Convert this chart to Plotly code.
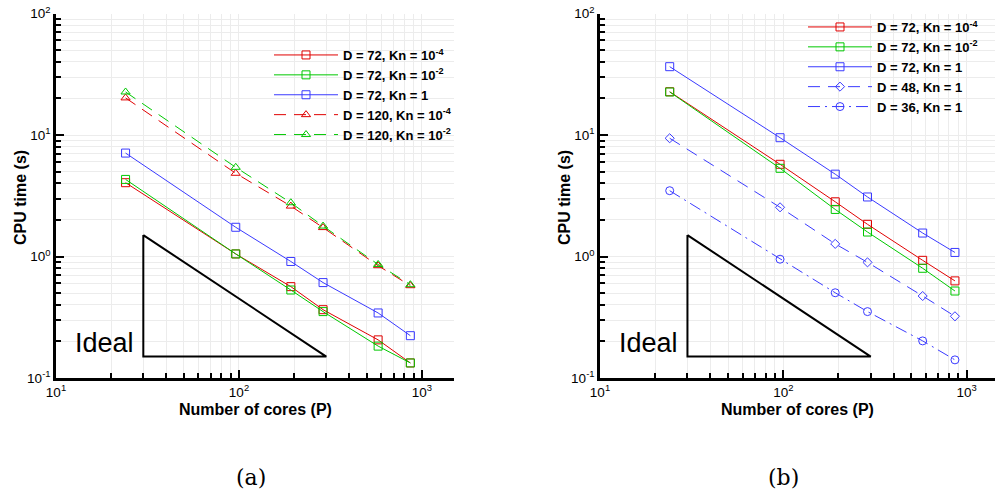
import plotly.graph_objects as go

# ---------------- data ----------------
cores = [24, 96, 192, 288, 576, 864]

# panel (a)
a_d72_kn4 = [4.05, 1.05, 0.565, 0.365, 0.206, 0.133]
a_d72_kn2 = [4.31, 1.05, 0.53, 0.352, 0.183, 0.133]
a_d72_kn0 = [7.1, 1.74, 0.91, 0.61, 0.343, 0.223]
a_d120_kn4 = [20.2, 4.84, 2.6, 1.73, 0.84, 0.575]
a_d120_kn2 = [22.6, 5.42, 2.77, 1.78, 0.86, 0.586]

# panel (b)
b_d72_kn4 = [22.7, 5.74, 2.82, 1.84, 0.93, 0.63]
b_d72_kn2 = [22.6, 5.32, 2.44, 1.59, 0.80, 0.52]
b_d72_kn0 = [36.5, 9.5, 4.76, 3.09, 1.56, 1.08]
b_d48_kn0 = [9.4, 2.54, 1.27, 0.895, 0.473, 0.322]
b_d36_kn0 = [3.48, 0.95, 0.503, 0.352, 0.202, 0.141]

# ideal-scaling triangle
ideal_x = [30, 30, 300, 30]
ideal_y = [1.5, 0.15, 0.15, 1.5]

x_tickvals = [10, 100, 1000]
x_ticktext = ["10<sup>1</sup>", "10<sup>2</sup>", "10<sup>3</sup>"]
y_tickvals = [0.1, 1, 10, 100]
y_ticktext = ["10<sup>-1</sup>", "10<sup>0</sup>", "10<sup>1</sup>", "10<sup>2</sup>"]

names_a = ["D = 72, Kn = 10<sup>-4</sup>", "D = 72, Kn = 10<sup>-2</sup>", "D = 72, Kn = 1",
           "D = 120, Kn = 10<sup>-4</sup>", "D = 120, Kn = 10<sup>-2</sup>"]
names_b = ["D = 72, Kn = 10<sup>-4</sup>", "D = 72, Kn = 10<sup>-2</sup>", "D = 72, Kn = 1",
           "D = 48, Kn = 1", "D = 36, Kn = 1"]

RED = "#e00000"
GREEN = "#00c800"
BLUE = "#3a3aff"
DASH = "12px,8px"
DASHDOT = "12px,5px,2px,5px"

fig = go.Figure()


def add(x, y, name, color, symbol, dash, xa, ya, legend, size=8):
    fig.add_trace(go.Scatter(
        x=x, y=y, name=name, mode="lines+markers",
        line=dict(color=color, width=1, dash=dash),
        marker=dict(symbol=symbol, size=size, color=color, line=dict(width=1, color=color)),
        xaxis=xa, yaxis=ya, legend=legend))


add(cores, a_d72_kn4, names_a[0], RED, "square-open", "solid", "x", "y", "legend")
add(cores, a_d72_kn2, names_a[1], GREEN, "square-open", "solid", "x", "y", "legend")
add(cores, a_d72_kn0, names_a[2], BLUE, "square-open", "solid", "x", "y", "legend")
add(cores, a_d120_kn4, names_a[3], RED, "triangle-up-open", DASH, "x", "y", "legend")
add(cores, a_d120_kn2, names_a[4], GREEN, "triangle-up-open", DASH, "x", "y", "legend")

add(cores, b_d72_kn4, names_b[0], RED, "square-open", "solid", "x2", "y2", "legend2")
add(cores, b_d72_kn2, names_b[1], GREEN, "square-open", "solid", "x2", "y2", "legend2")
add(cores, b_d72_kn0, names_b[2], BLUE, "square-open", "solid", "x2", "y2", "legend2")
add(cores, b_d48_kn0, names_b[3], BLUE, "diamond-open", DASH, "x2", "y2", "legend2", size=7)
add(cores, b_d36_kn0, names_b[4], BLUE, "circle-open", DASHDOT, "x2", "y2", "legend2")

for xa, ya in (("x", "y"), ("x2", "y2")):
    fig.add_trace(go.Scatter(x=ideal_x, y=ideal_y, mode="lines", showlegend=False,
                             line=dict(color="black", width=2), xaxis=xa, yaxis=ya,
                             hoverinfo="skip"))

minor_x = [m * 10 ** k for k in (1, 2, 3) for m in range(2, 10)]
minor_y = [m * 10 ** k for k in (-1, 0, 1) for m in range(2, 10)]

GRID = "#ececec"
tickfont = dict(family="Liberation Sans", size=13.5, color="black")
titlefont = dict(family="Liberation Sans", size=16, color="black", weight="bold")


def xaxis(domain, rng):
    return dict(type="log", domain=domain, range=rng, showline=True, linecolor="black",
                linewidth=2.5, mirror=False, ticks="inside", ticklen=8, tickwidth=2,
                tickcolor="black", tickmode="array", tickvals=x_tickvals, ticktext=x_ticktext,
                tickfont=tickfont, showgrid=True, gridcolor=GRID, gridwidth=1, zeroline=False,
                automargin=False,
                minor=dict(tickmode="array", tickvals=minor_x, ticks="inside", ticklen=5,
                           tickwidth=1.5, tickcolor="black", showgrid=True, gridcolor=GRID))


def yaxis(domain, anchor):
    return dict(type="log", domain=domain, range=[-1, 2], anchor=anchor, showline=True,
                linecolor="black", linewidth=2.5, mirror=False, ticks="inside", ticklen=8,
                tickwidth=2, tickcolor="black", tickmode="array", tickvals=y_tickvals,
                ticktext=y_ticktext, tickfont=tickfont, showgrid=True, gridcolor=GRID,
                gridwidth=1, zeroline=False, automargin=False,
                minor=dict(tickmode="array", tickvals=minor_y, ticks="inside", ticklen=5,
                           tickwidth=1.5, tickcolor="black", showgrid=True, gridcolor=GRID))


ydom = [1 - 378 / 502, 1 - 13.5 / 502]
legfont = dict(family="Liberation Sans", size=13, color="black", weight="bold")

fig.update_layout(
    width=995, height=502, margin=dict(l=0, r=0, t=0, b=0, autoexpand=False),
    paper_bgcolor="white", plot_bgcolor="white",
    xaxis=xaxis([56 / 995, 454 / 995], [1, 3.175]) | dict(anchor="y"),
    yaxis=yaxis(ydom, "x"),
    xaxis2=xaxis([600 / 995, 1.0], [1, 3.155]) | dict(anchor="y2"),
    yaxis2=yaxis(ydom, "x2"),
    legend=dict(x=269 / 995, y=1 - 40 / 502, xanchor="left", yanchor="top", font=legfont,
                itemwidth=64, bgcolor="rgba(0,0,0,0)", borderwidth=0, tracegroupgap=0),
    legend2=dict(x=803 / 995, y=1 - 12 / 502, xanchor="left", yanchor="top", font=legfont,
                 itemwidth=64, bgcolor="rgba(0,0,0,0)", borderwidth=0, tracegroupgap=0),
    showlegend=True,
)

# axis titles
for cx, ty in ((255, 20), (797.5, 564)):
    fig.add_annotation(x=cx / 995, y=1 - 409 / 502, xref="paper", yref="paper",
                       text="Number of cores (P)", showarrow=False, xanchor="center",
                       yanchor="middle", font=titlefont)
    fig.add_annotation(x=ty / 995, y=1 - 198 / 502, xref="paper", yref="paper",
                       text="CPU time (s)", showarrow=False, textangle=-90, xanchor="center",
                       yanchor="middle", font=titlefont)

ideal_font = dict(family="Liberation Sans", size=27, color="black")
for xr, yr in (("x", "y"), ("x2", "y2")):
    fig.add_annotation(x=1.436, y=-0.715, xref=xr, yref=yr, text="Ideal", showarrow=False,
                       xanchor="right", yanchor="middle", font=ideal_font)

cap_font = dict(family="DejaVu Serif", size=22, color="black")
fig.add_annotation(x=251 / 995, y=1 - 477 / 502, xref="paper", yref="paper", text="(a)",
                   showarrow=False, xanchor="center", yanchor="middle", font=cap_font)
fig.add_annotation(x=783 / 995, y=1 - 477 / 502, xref="paper", yref="paper", text="(b)",
                   showarrow=False, xanchor="center", yanchor="middle", font=cap_font)

fig.write_html("out.html", config={"displayModeBar": False},
               post_script="document.body.style.margin='0px';")
